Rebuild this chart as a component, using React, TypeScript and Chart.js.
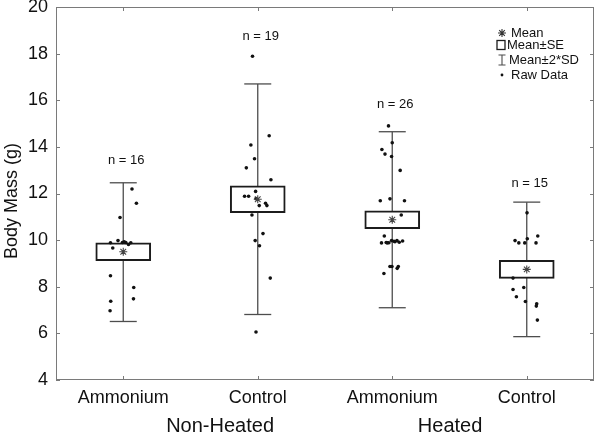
import React, { useEffect, useRef } from "react";
import { Chart, registerables } from "chart.js";

Chart.register(...registerables);

// Treatment categories along the x axis, and the heating groups beneath them
const categories = ["Ammonium", "Control", "Ammonium", "Control"];
const groupNames = ["Non-Heated", "Heated"];
const groupCenters = [0.72, 2.43];

// Summary statistics per treatment (g)
const counts = [16, 19, 26, 15];
const countLabelY = [13.42, 18.75, 15.83, 12.43];
const means = [9.5, 11.755, 10.875, 8.745];
const seLow = [9.12, 11.18, 10.49, 8.36];
const seHigh = [9.88, 12.33, 11.26, 9.13];
const sdLow = [6.51, 6.81, 7.1, 5.86];
const sdHigh = [12.46, 16.7, 14.65, 11.63];

// Raw body masses (g) with their horizontal jitter (category units)
const rawNonHeatedAmmonium = [12.19, 11.58, 10.97, 9.98, 9.89, 9.9, 9.9, 9.81, 9.89, 9.66, 9.93, 8.47, 7.97, 7.48, 7.38, 6.97];
const jitterNonHeatedAmmonium = [0.065, 0.098, -0.024, -0.039, -0.095, -0.006, 0.019, 0.039, 0.056, -0.078, 0.007, -0.095, 0.078, 0.076, -0.093, -0.098];

const rawNonHeatedControl = [17.89, 14.48, 14.08, 13.49, 13.1, 12.59, 12.09, 11.88, 11.88, 11.78, 11.58, 11.48, 11.48, 11.08, 10.28, 9.98, 9.76, 8.37, 6.06];
const jitterNonHeatedControl = [-0.039, 0.085, -0.051, -0.024, -0.085, 0.098, -0.016, -0.098, -0.068, -0.013, 0.058, 0.068, 0.011, -0.043, 0.039, -0.019, 0.013, 0.093, -0.013];

const rawHeatedAmmonium = [14.9, 14.18, 13.89, 13.69, 13.59, 12.99, 11.69, 11.77, 11.69, 11.08, 10.18, 9.88, 9.88, 9.89, 9.98, 9.95, 9.98, 9.91, 9.96, 9.93, 9.9, 8.87, 8.87, 8.87, 8.79, 8.57];
const jitterHeatedAmmonium = [-0.028, 0.0, -0.077, -0.054, -0.005, 0.059, -0.089, -0.017, 0.091, 0.067, -0.059, -0.08, -0.037, -0.025, -0.005, 0.013, 0.035, 0.052, 0.077, 0.02, -0.045, -0.017, -0.002, 0.045, 0.037, -0.062];

const rawHeatedControl = [11.17, 10.18, 10.06, 9.98, 9.88, 9.88, 9.88, 8.37, 7.88, 7.97, 7.57, 7.37, 7.27, 7.17, 6.57];
const jitterHeatedControl = [0.002, 0.082, 0.004, -0.087, -0.059, -0.015, 0.069, -0.102, -0.102, -0.022, -0.077, -0.01, 0.074, 0.071, 0.079];

const rawByGroup = [rawNonHeatedAmmonium, rawNonHeatedControl, rawHeatedAmmonium, rawHeatedControl];
const jitterByGroup = [jitterNonHeatedAmmonium, jitterNonHeatedControl, jitterHeatedAmmonium, jitterHeatedControl];

const yTicks = [4, 6, 8, 10, 12, 14, 16, 18, 20];
const legendLabels = ["Mean", "Mean\u00b1SE", "Mean\u00b12*SD", "Raw Data"];

const FONT = "'Liberation Sans', Arial, Helvetica, sans-serif";
const TEXT = "#111";
const FRAME = "#7a7a7a";
const WHISKER = "#4d4d4d";
const BOX = "#1c1c1c";

function drawStar(ctx: CanvasRenderingContext2D, x: number, y: number, r: number) {
  ctx.beginPath();
  for (let k = 0; k < 4; k++) {
    const a = (k * Math.PI) / 4;
    ctx.moveTo(x - r * Math.cos(a), y - r * Math.sin(a));
    ctx.lineTo(x + r * Math.cos(a), y + r * Math.sin(a));
  }
  ctx.stroke();
}

const decorations = {
  id: "decorations",
  afterDraw(chart: any) {
    const { ctx, chartArea, scales } = chart;
    const xs = scales.x;
    const ys = scales.y;
    ctx.save();

    // frame with inward ticks on every side
    ctx.strokeStyle = FRAME;
    ctx.lineWidth = 1;
    ctx.strokeRect(chartArea.left + 0.5, chartArea.top + 0.5, chartArea.right - chartArea.left - 1, chartArea.bottom - chartArea.top - 1);
    ctx.beginPath();
    yTicks.forEach((v) => {
      const py = Math.round(ys.getPixelForValue(v)) + 0.5;
      ctx.moveTo(chartArea.left, py);
      ctx.lineTo(chartArea.left + 4, py);
      ctx.moveTo(chartArea.right, py);
      ctx.lineTo(chartArea.right - 4, py);
    });
    categories.forEach((_, i) => {
      const px = Math.round(xs.getPixelForValue(i)) + 0.5;
      ctx.moveTo(px, chartArea.bottom);
      ctx.lineTo(px, chartArea.bottom - 4);
      ctx.moveTo(px, chartArea.top);
      ctx.lineTo(px, chartArea.top + 4);
    });
    ctx.stroke();

    // sample sizes above each treatment
    ctx.fillStyle = TEXT;
    ctx.font = `13px ${FONT}`;
    ctx.textAlign = "center";
    ctx.textBaseline = "middle";
    counts.forEach((n, i) => {
      ctx.fillText(`n = ${n}`, xs.getPixelForValue(i) + 3, ys.getPixelForValue(countLabelY[i]));
    });

    // heating group labels below the treatment labels
    ctx.font = `20px ${FONT}`;
    groupNames.forEach((g, i) => {
      ctx.fillText(g, xs.getPixelForValue(groupCenters[i]), 426);
    });

    // y axis title
    ctx.font = `18px ${FONT}`;
    ctx.save();
    ctx.translate(12, 201);
    ctx.rotate(-Math.PI / 2);
    ctx.fillText("Body Mass (g)", 0, 0);
    ctx.restore();

    // legend
    ctx.font = `13px ${FONT}`;
    ctx.textAlign = "left";
    const lx = 502;
    const rows = [33, 45, 60, 75];
    ctx.strokeStyle = "#333";
    ctx.lineWidth = 1.1;
    drawStar(ctx, lx, rows[0], 4);
    ctx.fillText(legendLabels[0], 511, rows[0]);
    ctx.lineWidth = 1.3;
    ctx.strokeStyle = BOX;
    ctx.strokeRect(497, rows[1] - 4.5, 8, 9);
    ctx.fillText(legendLabels[1], 507, rows[1]);
    ctx.strokeStyle = WHISKER;
    ctx.lineWidth = 1.1;
    ctx.beginPath();
    ctx.moveTo(lx, rows[2] - 5);
    ctx.lineTo(lx, rows[2] + 5);
    ctx.moveTo(lx - 3.5, rows[2] - 5);
    ctx.lineTo(lx + 3.5, rows[2] - 5);
    ctx.moveTo(lx - 3.5, rows[2] + 5);
    ctx.lineTo(lx + 3.5, rows[2] + 5);
    ctx.stroke();
    ctx.fillText(legendLabels[2], 509, rows[2]);
    ctx.beginPath();
    ctx.arc(lx, rows[3], 1.4, 0, Math.PI * 2);
    ctx.fill();
    ctx.fillText(legendLabels[3], 511, rows[3]);

    ctx.restore();
  },
};

export default function App() {
  const canvasRef = useRef<HTMLCanvasElement | null>(null);

  useEffect(() => {
    const canvas = canvasRef.current;
    if (!canvas) return;

    const whiskerSets = categories.map((_, i) => ({
      type: "line" as const,
      data: [
        { x: i, y: sdLow[i] },
        { x: i, y: sdHigh[i] },
      ],
      borderColor: WHISKER,
      borderWidth: 1.3,
      pointStyle: "line" as const,
      pointRadius: 13.5,
      pointHoverRadius: 13.5,
      pointBorderColor: WHISKER,
      pointBorderWidth: 1.3,
      showLine: true,
      order: 4,
    }));

    const boxSet = {
      type: "bar" as const,
      data: categories.map((_, i) => ({ x: i, y: [seLow[i], seHigh[i]] })),
      backgroundColor: "#ffffff",
      borderColor: BOX,
      borderWidth: 2,
      borderSkipped: false,
      barThickness: 55,
      order: 3,
    };

    const rawSet = {
      type: "scatter" as const,
      data: rawByGroup.flatMap((vals, i) => vals.map((v, k) => ({ x: i + jitterByGroup[i][k], y: v }))),
      pointRadius: 1.8,
      pointBorderWidth: 0,
      pointBackgroundColor: "#111",
      order: 2,
    };

    const meanSet = {
      type: "scatter" as const,
      data: means.map((m, i) => ({ x: i, y: m })),
      pointStyle: "star" as const,
      pointRadius: 4,
      pointBorderColor: "#444",
      pointBorderWidth: 1.1,
      order: 1,
    };

    const chart = new Chart(canvas, {
      type: "scatter",
      data: { datasets: [...whiskerSets, boxSet, rawSet, meanSet] as any },
      options: {
        responsive: false,
        animation: false,
        events: [],
        layout: { autoPadding: false, padding: { top: 7, right: 3, left: 0, bottom: 0 } },
        plugins: { legend: { display: false }, tooltip: { enabled: false } },
        scales: {
          x: {
            type: "linear",
            min: -0.5,
            max: 3.5,
            offset: false,
            grid: { display: false, drawTicks: false },
            border: { display: false },
            afterBuildTicks: (scale: any) => {
              scale.ticks = categories.map((_, i) => ({ value: i }));
            },
            afterFit: (scale: any) => {
              scale.height = 55;
              scale.paddingLeft = 0;
              scale.paddingRight = 0;
            },
            ticks: {
              padding: 7,
              color: TEXT,
              font: { family: FONT, size: 18 },
              maxRotation: 0,
              autoSkip: false,
              callback: (v: any) => categories[Number(v)] ?? "",
            },
          },
          y: {
            type: "linear",
            min: 4,
            max: 20,
            grid: { display: false, drawTicks: false },
            border: { display: false },
            afterFit: (scale: any) => {
              scale.width = 56;
              scale.paddingTop = 0;
              scale.paddingBottom = 0;
            },
            afterBuildTicks: (scale: any) => {
              scale.ticks = yTicks.map((v) => ({ value: v }));
            },
            ticks: {
              padding: 8,
              color: TEXT,
              font: { family: FONT, size: 18 },
            },
          },
        },
      },
      plugins: [decorations],
    });

    return () => chart.destroy();
  }, []);

  return (
    <div style={{ position: "fixed", left: 0, top: 0, width: 597, height: 435, background: "#fff" }}>
      <canvas ref={canvasRef} width={597} height={435} />
    </div>
  );
}
